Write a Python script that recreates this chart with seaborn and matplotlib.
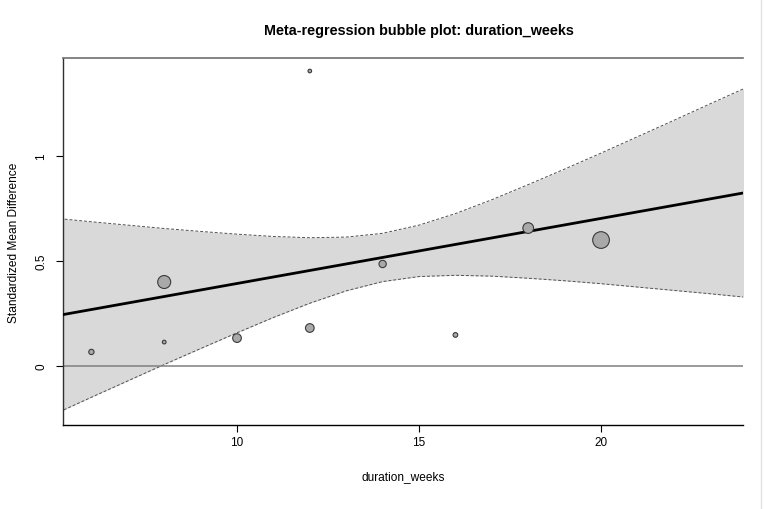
import matplotlib
matplotlib.use("Agg")
import matplotlib.pyplot as plt
import matplotlib.lines as mlines
import numpy as np
import pandas as pd
import seaborn as sns

# study points
duration_weeks = [6, 8, 8, 10, 12, 12, 14, 16, 18, 20]
smd = [0.067, 0.114, 0.40, 0.133, 1.405, 0.181, 0.486, 0.148, 0.657, 0.60]
bubble_diam = [5.3, 3.7, 13.0, 8.7, 3.6, 8.7, 7.3, 4.7, 10.7, 16.7]  # px

# fitted line and confidence band
grid_x = [5, 6, 7, 8, 9, 10, 11, 12, 13, 14, 15, 16, 17, 18, 19, 20, 21, 22, 23, 24]
fit_y = [0.238, 0.269, 0.300, 0.331, 0.362, 0.393, 0.424, 0.455, 0.486, 0.517,
         0.548, 0.579, 0.610, 0.641, 0.672, 0.703, 0.734, 0.765, 0.796, 0.827]
ci_upper = [0.704, 0.687, 0.671, 0.655, 0.641, 0.628, 0.617, 0.611, 0.614, 0.632,
            0.671, 0.726, 0.792, 0.864, 0.938, 1.014, 1.092, 1.170, 1.249, 1.327]
ci_lower = [-0.228, -0.149, -0.071, 0.007, 0.083, 0.158, 0.231, 0.299, 0.358, 0.402,
            0.426, 0.432, 0.428, 0.418, 0.406, 0.392, 0.376, 0.360, 0.344, 0.327]

x_ticks = [10, 15, 20]
y_ticks = [0, 0.5, 1]
y_ticklabels = ["0", "0.5", "1"]

df = pd.DataFrame({"duration_weeks": duration_weeks, "smd": smd,
                   "size": [(d * 0.72) ** 2 for d in bubble_diam]})
band = pd.DataFrame({"x": grid_x, "fit": fit_y, "lo": ci_lower, "hi": ci_upper})

sns.set_style("white")
plt.rcParams["font.family"] = ["Liberation Sans", "DejaVu Sans"]
plt.rcParams["text.color"] = "black"
plt.rcParams["axes.labelcolor"] = "black"
plt.rcParams["xtick.color"] = "black"
plt.rcParams["ytick.color"] = "black"

fig = plt.figure(figsize=(7.74, 5.10), dpi=100)
ax = fig.add_axes([63 / 774, 1 - 426 / 510, (743 - 63) / 774, (426 - 59) / 510])

ax.fill_between(band["x"], band["lo"], band["hi"], color="#d9d9d9", lw=0, zorder=1)
ax.plot(band["x"], band["hi"], ls=(0, (3, 2)), color="#505050", lw=0.7, zorder=2)
ax.plot(band["x"], band["lo"], ls=(0, (3, 2)), color="#505050", lw=0.7, zorder=2)
ax.axhline(0, color="#808080", lw=1.1, zorder=2)
sns.lineplot(data=band, x="x", y="fit", color="black", lw=2.0, ax=ax, zorder=3)

ax.scatter(df["duration_weeks"], df["smd"], s=df["size"], color="#a9a9a9",
           edgecolor="#3a3a3a", linewidth=0.8, zorder=4)

ax.set_xlim(5.22, 23.9)
ax.set_ylim(-0.281, 1.467)
ax.set_xticks(x_ticks)
ax.set_xticklabels([str(t) for t in x_ticks], fontsize=8.5)
ax.set_yticks(y_ticks)
ax.set_yticklabels(y_ticklabels, fontsize=8.5, rotation=90, va="center")
ax.tick_params(axis="both", direction="out", length=5, width=0.8, color="black",
               labelcolor="black", left=True, bottom=True)
ax.tick_params(axis="x", pad=3)
ax.tick_params(axis="y", pad=6.5)

ax.set_xlabel("duration_weeks", fontsize=8.6, labelpad=15.5)
ax.set_ylabel("Standardized Mean Difference", fontsize=8.6, labelpad=10.5)
title = ax.set_title("Meta-regression bubble plot: duration_weeks", fontsize=10.4,
                     fontweight="bold", pad=17.5, color="black")
title.set_x(0.5235)

ax.spines["right"].set_visible(False)
ax.spines["top"].set_color("#707070")
ax.spines["top"].set_linewidth(1.2)
ax.spines["left"].set_color("#303030")
ax.spines["bottom"].set_color("black")
for s in ["left", "bottom"]:
    ax.spines[s].set_linewidth(1.0)

fig.add_artist(mlines.Line2D([761 / 774, 761 / 774], [0, 1], color="#e2e2e2", lw=1))

fig.savefig("out.png", dpi=100)
